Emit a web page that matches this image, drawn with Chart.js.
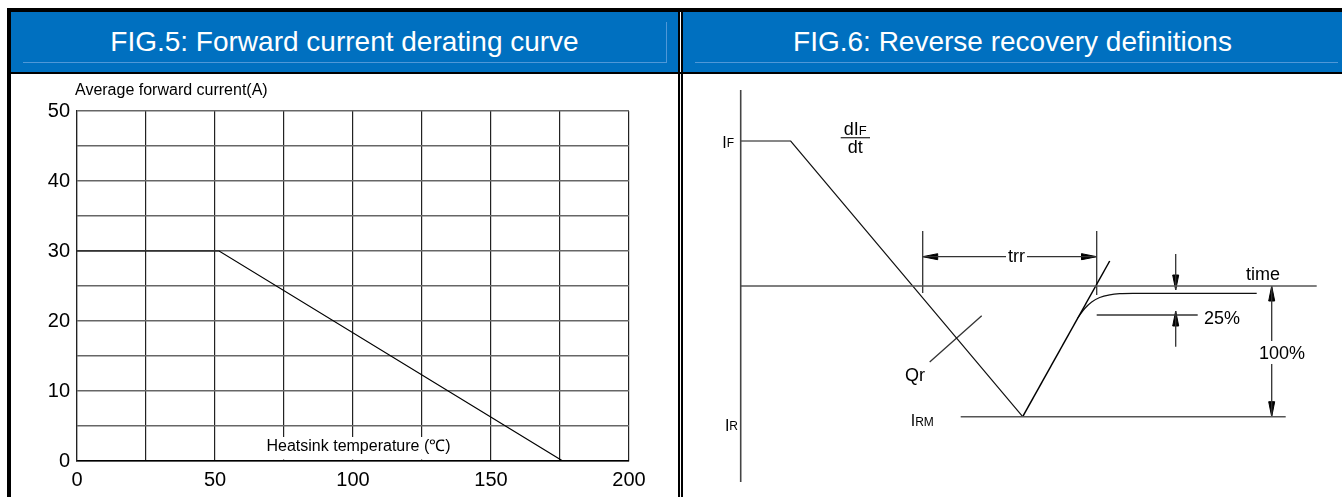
<!DOCTYPE html>
<html>
<head>
<meta charset="utf-8">
<script src="https://cdn.jsdelivr.net/npm/chart.js@4.4.1/dist/chart.umd.min.js"></script>
<style>
body { margin: 0; width: 1342px; height: 497px; overflow: hidden; background: #fff; position: relative;
       font-family: Arial, "Liberation Sans", sans-serif; }
.blk { position: absolute; background: #000; }
.head { position: absolute; top: 12px; height: 60px; background: #0070c0; color: #fff; font-size: 28px;
        display: flex; align-items: center; justify-content: center; }
.bevel { position: absolute; background: #4f98d8; }
.pane { position: absolute; top: 74px; height: 423px; }
</style>
</head>
<body>
<div class="blk" style="left:7px;top:8px;width:1335px;height:4px"></div>
<div class="blk" style="left:7px;top:8px;width:4px;height:489px"></div>
<div class="head" style="left:11px;width:667px">FIG.5: Forward current derating curve</div>
<div class="head" style="left:683px;width:659px">FIG.6: Reverse recovery definitions</div>
<div class="bevel" style="left:23px;top:62px;width:644px;height:1px"></div>
<div class="bevel" style="left:666px;top:22px;width:1px;height:41px"></div>
<div class="bevel" style="left:695px;top:62px;width:643px;height:1px"></div>
<div class="blk" style="left:7px;top:72px;width:1335px;height:2px"></div>
<div class="blk" style="left:678px;top:8px;width:2px;height:489px"></div>
<div class="blk" style="left:681px;top:8px;width:2px;height:489px"></div>
<div class="pane" style="left:11px;width:667px"><canvas id="derating" width="667" height="423"></canvas></div>
<div class="pane" style="left:683px;width:659px"><canvas id="recovery" width="659" height="423"></canvas></div>

<script>
// ---- FIG.5 data ----
const heatsinkTemp = [0, 51.5, 176];
const forwardCurrent = [30, 30, 0];
const xTickLabels = [0, 50, 100, 150, 200];
const yTickLabels = [0, 10, 20, 30, 40, 50];

// ---- FIG.6 data (schematic units, time axis at y = 0) ----
const axisX = [0, 0], axisY = [19.6, -19.6];
const timeAxisX = [0, 57.6], timeAxisY = [0, 0];
const fallX = [0, 5.0, 28.2], fallY = [14.5, 14.5, -13.07];
const riseX = [28.2, 36.9], riseY = [-13.07, 2.5];
const tailX = [33.7, 34.4, 35.1, 35.9, 36.9, 37.9, 39.2, 51.6];
const tailY = [-3.2, -2.25, -1.6, -1.15, -0.88, -0.76, -0.73, -0.73];
const irmX = [22.0, 54.5], irmY = [-13.07, -13.07];
// thin dimension / leader lines: [x1, y1, x2, y2]
const dimLines = [
  [18.2, 5.5, 18.2, -0.7],     // trr start
  [35.6, 5.5, 35.6, -0.9],     // trr end
  [18.2, 2.93, 35.6, 2.93],    // trr span
  [43.5, 3.2, 43.5, -0.4],     // 25% upper
  [43.5, -2.5, 43.5, -6.07],   // 25% lower
  [35.6, -2.9, 45.7, -2.9],    // 25% level
  [53.1, 0, 53.1, -5.5],       // 100% upper
  [53.1, -7.8, 53.1, -13.07],  // 100% lower
  [18.9, -7.6, 24.1, -2.97],   // Qr leader
  [10.0, 14.83, 12.93, 14.83]  // fraction bar
];
const arrowTipX = [18.2, 35.6, 43.5, 43.5, 53.1, 53.1];
const arrowTipY = [2.93, 2.93, -0.4, -2.5, 0, -13.07];
const arrowDir = ['left', 'right', 'down', 'up', 'up', 'down'];

const FONT = 'Arial, "Liberation Sans", sans-serif';
Chart.defaults.font.family = FONT;
Chart.defaults.color = '#000';
Chart.defaults.animation = false;

function pts(xs, ys) {
  return xs.map((x, i) => ({x: x, y: ys[i]}));
}

// ---------- FIG.5 ----------
const deratingLabels = {
  id: 'deratingLabels',
  afterDraw(chart) {
    const ctx = chart.ctx, xs = chart.scales.x, ys = chart.scales.y, a = chart.chartArea;
    ctx.save();
    ctx.fillStyle = '#000';
    ctx.font = '16px ' + FONT;
    ctx.textBaseline = 'middle';
    ctx.textAlign = 'left';
    ctx.fillText('Average forward current(A)', a.left - 2, a.top - 20);

    // axis caption sitting inside the grid on a white patch
    const x0 = xs.getPixelForValue(67), x1 = xs.getPixelForValue(137.3);
    const yTop = ys.getPixelForValue(3.43);
    ctx.fillStyle = '#fff';
    ctx.fillRect(x0, yTop, x1 - x0, a.bottom - 1.5 - yTop);
    ctx.fillStyle = '#000';
    ctx.textAlign = 'center';
    ctx.fillText('Heatsink temperature (\u2103)', xs.getPixelForValue(102), ys.getPixelForValue(2.04));
    ctx.restore();
  }
};

new Chart(document.getElementById('derating'), {
  type: 'line',
  data: {
    datasets: [{
      data: pts(heatsinkTemp, forwardCurrent),
      borderColor: '#000',
      borderWidth: 1.2,
      pointRadius: 0,
      tension: 0
    }]
  },
  options: {
    responsive: false,
    layout: {padding: {top: 37, right: 49, left: 0, bottom: 0}},
    plugins: {legend: {display: false}, tooltip: {enabled: false}},
    scales: {
      x: {
        type: 'linear', min: 0, max: 200,
        ticks: {
          stepSize: 25, autoSkip: false, maxRotation: 0, padding: 7,
          font: {size: 20}, color: '#000',
          callback: v => xTickLabels.includes(v) ? String(v) : ''
        },
        grid: {color: '#222', lineWidth: 1.2, drawTicks: false},
        border: {color: '#000', width: 1.5},
        afterFit: s => { s.height = 36; }
      },
      y: {
        type: 'linear', min: 0, max: 50,
        ticks: {
          stepSize: 5, padding: 7, font: {size: 20}, color: '#000',
          callback: v => yTickLabels.includes(v) ? String(v) : ''
        },
        grid: {color: '#666', lineWidth: 1.5, drawTicks: false},
        border: {color: '#222', width: 1.2},
        afterFit: s => { s.width = 66; }
      }
    }
  },
  plugins: [deratingLabels]
});

// ---------- FIG.6 ----------
function arrowHead(x, y, dir) {
  const L = 1.5, W = 0.3;
  const v = {left: [-1, 0], right: [1, 0], up: [0, 1], down: [0, -1]}[dir];
  const bx = x - v[0] * L, by = y - v[1] * L;
  const px = -v[1] * W, py = v[0] * W;
  return [{x: x, y: y}, {x: bx + px, y: by + py}, {x: bx - px, y: by - py}, {x: x, y: y}];
}

const recDatasets = [
  {data: pts(axisX, axisY), borderColor: '#444', borderWidth: 1.6},
  {data: pts(timeAxisX, timeAxisY), borderColor: '#555', borderWidth: 1.6},
  {data: pts(irmX, irmY), borderColor: '#555', borderWidth: 1.6},
  {data: pts(fallX, fallY), borderColor: '#111', borderWidth: 1.2},
  {data: pts(riseX, riseY), borderColor: '#000', borderWidth: 1.5},
  {data: pts(tailX, tailY), borderColor: '#111', borderWidth: 1.2, cubicInterpolationMode: 'monotone'}
];
dimLines.forEach(l => {
  recDatasets.push({data: [{x: l[0], y: l[1]}, {x: l[2], y: l[3]}], borderColor: '#333', borderWidth: 1.3});
});
arrowTipX.forEach((x, i) => {
  recDatasets.push({data: arrowHead(x, arrowTipY[i], arrowDir[i]), borderColor: '#000', borderWidth: 1,
                    backgroundColor: '#000', fill: 'shape'});
});
recDatasets.forEach(d => { d.pointRadius = 0; if (d.tension === undefined) d.tension = 0; });

// annotations: [main, subscript, x, baseline y, align, size, white backing]
const recLabels = [
  ['I', 'F', -0.67, 13.83, 'right', 16, false],
  ['I', 'R', -0.27, -14.45, 'right', 16, false],
  ['I', 'RM', 17.0, -14.02, 'left', 16, false],
  ['dI', 'F', 11.45, 15.1, 'center', 18, false],
  ['dt', '', 11.45, 13.33, 'center', 18, false],
  ['time', '', 52.23, 0.57, 'center', 18, false],
  ['trr', '', 27.58, 2.37, 'center', 18, true],
  ['25%', '', 46.33, -3.77, 'left', 18, false],
  ['100%', '', 54.13, -7.27, 'center', 18, false],
  ['Qr', '', 17.43, -9.45, 'center', 18, false]
];

const recoveryLabels = {
  id: 'recoveryLabels',
  afterDraw(chart) {
    const ctx = chart.ctx, xs = chart.scales.x, ys = chart.scales.y;
    ctx.save();
    ctx.textAlign = 'left';
    ctx.textBaseline = 'alphabetic';
    recLabels.forEach(l => {
      const size = l[5], subSize = Math.round(size * 0.72);
      ctx.font = size + 'px ' + FONT;
      const w1 = ctx.measureText(l[0]).width;
      ctx.font = subSize + 'px ' + FONT;
      const w2 = l[1] ? ctx.measureText(l[1]).width : 0;
      const px = xs.getPixelForValue(l[2]), py = ys.getPixelForValue(l[3]);
      let left = px;
      if (l[4] === 'right') left = px - w1 - w2;
      if (l[4] === 'center') left = px - (w1 + w2) / 2;
      if (l[6]) {
        ctx.fillStyle = '#fff';
        ctx.fillRect(left - 2, py - size * 0.8, w1 + w2 + 4, size * 0.95);
      }
      ctx.fillStyle = '#000';
      ctx.font = size + 'px ' + FONT;
      ctx.fillText(l[0], left, py);
      if (l[1]) {
        ctx.font = subSize + 'px ' + FONT;
        ctx.fillText(l[1], left + w1, py - 0.5);
      }
    });
    ctx.restore();
  }
};

new Chart(document.getElementById('recovery'), {
  type: 'line',
  data: {datasets: recDatasets},
  options: {
    responsive: false,
    layout: {padding: 0},
    plugins: {legend: {display: false}, tooltip: {enabled: false}},
    scales: {
      x: {type: 'linear', display: false, min: -5.77, max: 60.13},
      y: {type: 'linear', display: false, min: -21.1, max: 21.2}
    }
  },
  plugins: [recoveryLabels]
});
</script>
</body>
</html>
